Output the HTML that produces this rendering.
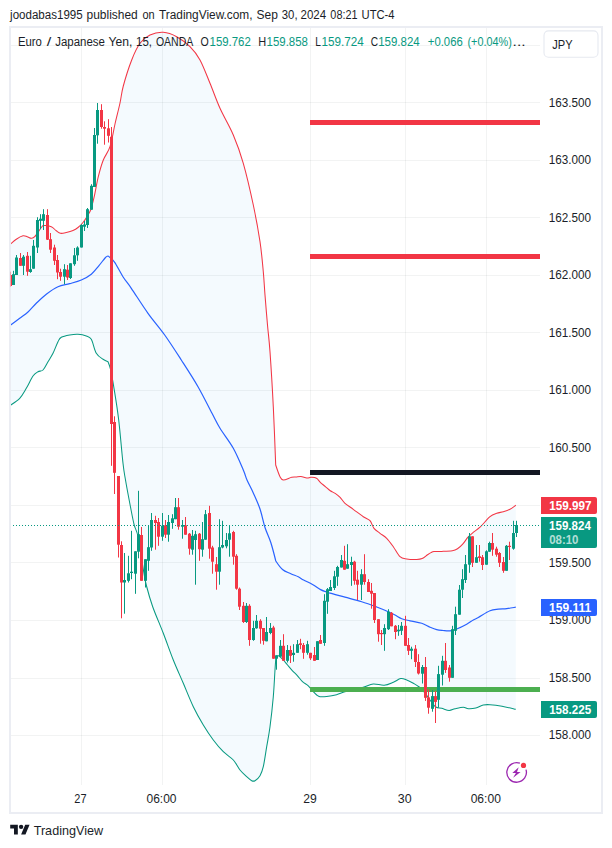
<!DOCTYPE html>
<html><head><meta charset="utf-8"><title>EURJPY</title>
<style>html,body{margin:0;padding:0;background:#fff}body{width:612px;height:848px;overflow:hidden}svg{display:block}text{font-family:"Liberation Sans",sans-serif}</style>
</head><body>
<svg width="612" height="848" viewBox="0 0 612 848">
<rect width="612" height="848" fill="#fff"/>
<defs><clipPath id="pane"><rect x="11" y="28" width="529" height="757"/></clipPath></defs>
<path d="M10.00 244.50C11.05 243.62 14.13 240.65 16.30 239.20C18.47 237.75 21.18 236.22 23.00 235.80C24.82 235.38 25.82 236.28 27.20 236.70C28.58 237.12 30.05 238.30 31.30 238.30C32.55 238.30 33.03 238.50 34.70 236.70C36.37 234.90 39.78 229.37 41.30 227.50C42.82 225.63 42.13 225.63 43.80 225.50C45.47 225.37 49.22 225.82 51.30 226.70C53.38 227.58 54.77 229.70 56.30 230.80C57.83 231.90 58.83 233.02 60.50 233.30C62.17 233.58 64.22 232.97 66.30 232.50C68.38 232.03 71.05 231.33 73.00 230.50C74.95 229.67 76.33 228.83 78.00 227.50C79.67 226.17 81.33 224.58 83.00 222.50C84.67 220.42 86.67 217.25 88.00 215.00C89.33 212.75 89.97 212.05 91.00 209.00C92.03 205.95 92.98 202.08 94.20 196.70C95.42 191.32 96.78 182.82 98.30 176.70C99.82 170.58 101.35 165.00 103.30 160.00C105.25 155.00 108.05 152.70 110.00 146.70C111.95 140.70 113.33 131.28 115.00 124.00C116.67 116.72 118.62 109.33 120.00 103.00C121.38 96.67 121.35 93.17 123.30 86.00C125.25 78.83 128.92 67.12 131.70 60.00C134.48 52.88 136.95 47.47 140.00 43.30C143.05 39.13 146.12 36.83 150.00 35.00C153.88 33.17 158.85 32.02 163.30 32.30C167.75 32.58 172.25 34.30 176.70 36.70C181.15 39.10 186.12 42.82 190.00 46.70C193.88 50.58 196.67 53.90 200.00 60.00C203.33 66.10 206.67 75.25 210.00 83.30C213.33 91.35 216.12 99.68 220.00 108.30C223.88 116.92 229.42 125.83 233.30 135.00C237.18 144.17 239.97 151.63 243.30 163.30C246.63 174.97 250.52 191.93 253.30 205.00C256.08 218.07 258.33 230.58 260.00 241.70C261.67 252.82 262.47 262.82 263.30 271.70C264.13 280.58 264.30 286.12 265.00 295.00C265.70 303.88 266.67 315.55 267.50 325.00C268.33 334.45 269.03 338.08 270.00 351.70C270.97 365.32 272.35 387.82 273.30 406.70C274.25 425.58 275.70 465.00 275.70 465.00C275.70 465.00 278.73 474.20 280.00 476.70C281.27 479.20 281.35 479.90 283.30 480.00C285.25 480.10 289.58 477.80 291.70 477.30C293.82 476.80 294.47 477.13 296.00 477.00C297.53 476.87 299.10 476.33 300.90 476.50C302.70 476.67 305.17 477.87 306.80 478.00C308.43 478.13 309.40 477.38 310.70 477.30C312.00 477.22 313.53 477.27 314.60 477.50C315.67 477.73 316.12 477.85 317.10 478.70C318.08 479.55 319.12 481.28 320.50 482.60C321.88 483.92 323.77 485.23 325.40 486.60C327.03 487.97 328.67 489.67 330.30 490.80C331.93 491.93 333.57 492.30 335.20 493.40C336.83 494.50 338.47 495.75 340.10 497.40C341.73 499.05 342.80 501.32 345.00 503.30C347.20 505.28 350.25 507.07 353.30 509.30C356.35 511.53 360.52 514.80 363.30 516.70C366.08 518.60 368.22 518.77 370.00 520.70C371.78 522.63 372.33 526.20 374.00 528.30C375.67 530.40 377.88 531.63 380.00 533.30C382.12 534.97 384.48 536.07 386.70 538.30C388.92 540.53 391.08 543.63 393.30 546.70C395.52 549.77 397.77 554.65 400.00 556.70C402.23 558.75 403.92 558.53 406.70 559.00C409.48 559.47 414.12 559.57 416.70 559.50C419.28 559.43 420.40 559.38 422.20 558.60C424.00 557.82 426.03 555.80 427.50 554.80C428.97 553.80 429.92 553.15 431.00 552.60C432.08 552.05 432.20 551.70 434.00 551.50C435.80 551.30 438.75 551.53 441.80 551.40C444.85 551.27 449.68 551.13 452.30 550.70C454.92 550.27 455.77 549.88 457.50 548.80C459.23 547.72 460.95 546.13 462.70 544.20C464.45 542.27 466.25 539.17 468.00 537.20C469.75 535.23 471.20 534.07 473.20 532.40C475.20 530.73 477.20 529.82 480.00 527.20C482.80 524.58 487.22 519.02 490.00 516.70C492.78 514.38 494.48 514.13 496.70 513.30C498.92 512.47 501.08 512.38 503.30 511.70C505.52 511.02 507.92 510.27 510.00 509.20C512.08 508.13 514.83 505.95 515.80 505.30L515.80 709.30C513.50 708.78 506.30 706.97 502.00 706.20C497.70 705.43 493.12 704.90 490.00 704.70C486.88 704.50 485.67 704.45 483.30 705.00C480.93 705.55 478.30 707.38 475.80 708.00C473.30 708.62 470.38 708.83 468.30 708.70C466.22 708.57 465.52 707.20 463.30 707.20C461.08 707.20 457.35 708.17 455.00 708.70C452.65 709.23 451.42 710.47 449.20 710.40C446.98 710.33 443.93 708.87 441.70 708.30C439.47 707.73 437.75 708.38 435.80 707.00C433.85 705.62 431.80 702.33 430.00 700.00C428.20 697.67 426.80 695.17 425.00 693.00C423.20 690.83 421.15 688.62 419.20 687.00C417.25 685.38 415.38 684.47 413.30 683.30C411.22 682.13 408.80 680.78 406.70 680.00C404.60 679.22 402.92 678.23 400.70 678.60C398.48 678.97 396.15 681.10 393.40 682.20C390.65 683.30 387.55 684.90 384.20 685.20C380.85 685.50 376.67 683.70 373.30 684.00C369.93 684.30 367.22 686.08 364.00 687.00C360.78 687.92 357.33 688.65 354.00 689.50C350.67 690.35 346.90 691.23 344.00 692.10C341.10 692.97 339.48 693.97 336.60 694.70C333.72 695.43 329.47 696.17 326.70 696.50C323.93 696.83 321.67 696.95 320.00 696.70C318.33 696.45 317.82 695.83 316.70 695.00C315.58 694.17 314.70 693.23 313.30 691.70C311.90 690.17 310.10 687.47 308.30 685.80C306.50 684.13 304.30 683.37 302.50 681.70C300.70 680.03 299.17 677.62 297.50 675.80C295.83 673.98 294.17 672.60 292.50 670.80C290.83 669.00 289.03 666.80 287.50 665.00C285.97 663.20 284.83 661.53 283.30 660.00C281.77 658.47 279.55 656.08 278.30 655.80C277.05 655.52 275.80 658.30 275.80 658.30C275.80 658.30 275.42 663.60 275.00 670.00C274.58 676.40 274.13 687.25 273.30 696.70C272.47 706.15 271.10 718.37 270.00 726.70C268.90 735.03 267.82 740.03 266.70 746.70C265.58 753.37 264.42 761.87 263.30 766.70C262.18 771.53 261.38 773.37 260.00 775.70C258.62 778.03 256.38 779.87 255.00 780.70C253.62 781.53 253.08 781.37 251.70 780.70C250.32 780.03 248.65 778.48 246.70 776.70C244.75 774.92 242.23 772.78 240.00 770.00C237.77 767.22 236.08 763.05 233.30 760.00C230.52 756.95 226.63 755.03 223.30 751.70C219.97 748.37 216.63 744.45 213.30 740.00C209.97 735.55 206.63 730.55 203.30 725.00C199.97 719.45 196.63 713.65 193.30 706.70C189.97 699.75 186.63 691.08 183.30 683.30C179.97 675.52 176.63 668.33 173.30 660.00C169.97 651.67 166.73 642.18 163.30 633.30C159.87 624.42 155.50 614.58 152.70 606.70C149.90 598.82 148.00 591.83 146.50 586.00C145.00 580.17 145.12 579.92 143.70 571.70C142.28 563.48 139.58 544.48 138.00 536.70C136.42 528.92 135.45 529.95 134.20 525.00C132.95 520.05 131.95 514.50 130.50 507.00C129.05 499.50 126.75 487.28 125.50 480.00C124.25 472.72 124.13 473.30 123.00 463.30C121.87 453.30 120.20 432.50 118.70 420.00C117.20 407.50 115.33 396.63 114.00 388.30C112.67 379.97 111.70 374.43 110.70 370.00C109.70 365.57 108.00 361.70 108.00 361.70C108.00 361.70 104.95 360.70 103.00 359.30C101.05 357.90 98.25 356.63 96.30 353.30C94.35 349.97 92.97 342.18 91.30 339.30C89.63 336.42 88.52 336.83 86.30 336.00C84.08 335.17 80.77 334.47 78.00 334.30C75.23 334.13 72.48 334.50 69.70 335.00C66.92 335.50 63.25 336.18 61.30 337.30C59.35 338.42 59.38 339.03 58.00 341.70C56.62 344.37 54.67 349.97 53.00 353.30C51.33 356.63 49.67 358.92 48.00 361.70C46.33 364.48 44.67 368.33 43.00 370.00C41.33 371.67 39.67 370.70 38.00 371.70C36.33 372.70 34.95 373.23 33.00 376.00C31.05 378.77 28.52 384.58 26.30 388.30C24.08 392.02 22.42 395.43 19.70 398.30C16.98 401.17 11.62 404.30 10.00 405.50Z" fill="#f4fafe" clip-path="url(#pane)"/>
<g shape-rendering="crispEdges" fill="#2a2e39" fill-opacity="0.06">
<rect x="11" y="45" width="529" height="1"/>
<rect x="11" y="102" width="529" height="1"/>
<rect x="11" y="160" width="529" height="1"/>
<rect x="11" y="217" width="529" height="1"/>
<rect x="11" y="275" width="529" height="1"/>
<rect x="11" y="332" width="529" height="1"/>
<rect x="11" y="390" width="529" height="1"/>
<rect x="11" y="447" width="529" height="1"/>
<rect x="11" y="505" width="529" height="1"/>
<rect x="11" y="562" width="529" height="1"/>
<rect x="11" y="620" width="529" height="1"/>
<rect x="11" y="678" width="529" height="1"/>
<rect x="11" y="735" width="529" height="1"/>
<rect x="81" y="28" width="1" height="757"/>
<rect x="162" y="28" width="1" height="757"/>
<rect x="310" y="28" width="1" height="757"/>
<rect x="405" y="28" width="1" height="757"/>
<rect x="486" y="28" width="1" height="757"/>
</g>
<g clip-path="url(#pane)">
<path d="M10.00 244.50C11.05 243.62 14.13 240.65 16.30 239.20C18.47 237.75 21.18 236.22 23.00 235.80C24.82 235.38 25.82 236.28 27.20 236.70C28.58 237.12 30.05 238.30 31.30 238.30C32.55 238.30 33.03 238.50 34.70 236.70C36.37 234.90 39.78 229.37 41.30 227.50C42.82 225.63 42.13 225.63 43.80 225.50C45.47 225.37 49.22 225.82 51.30 226.70C53.38 227.58 54.77 229.70 56.30 230.80C57.83 231.90 58.83 233.02 60.50 233.30C62.17 233.58 64.22 232.97 66.30 232.50C68.38 232.03 71.05 231.33 73.00 230.50C74.95 229.67 76.33 228.83 78.00 227.50C79.67 226.17 81.33 224.58 83.00 222.50C84.67 220.42 86.67 217.25 88.00 215.00C89.33 212.75 89.97 212.05 91.00 209.00C92.03 205.95 92.98 202.08 94.20 196.70C95.42 191.32 96.78 182.82 98.30 176.70C99.82 170.58 101.35 165.00 103.30 160.00C105.25 155.00 108.05 152.70 110.00 146.70C111.95 140.70 113.33 131.28 115.00 124.00C116.67 116.72 118.62 109.33 120.00 103.00C121.38 96.67 121.35 93.17 123.30 86.00C125.25 78.83 128.92 67.12 131.70 60.00C134.48 52.88 136.95 47.47 140.00 43.30C143.05 39.13 146.12 36.83 150.00 35.00C153.88 33.17 158.85 32.02 163.30 32.30C167.75 32.58 172.25 34.30 176.70 36.70C181.15 39.10 186.12 42.82 190.00 46.70C193.88 50.58 196.67 53.90 200.00 60.00C203.33 66.10 206.67 75.25 210.00 83.30C213.33 91.35 216.12 99.68 220.00 108.30C223.88 116.92 229.42 125.83 233.30 135.00C237.18 144.17 239.97 151.63 243.30 163.30C246.63 174.97 250.52 191.93 253.30 205.00C256.08 218.07 258.33 230.58 260.00 241.70C261.67 252.82 262.47 262.82 263.30 271.70C264.13 280.58 264.30 286.12 265.00 295.00C265.70 303.88 266.67 315.55 267.50 325.00C268.33 334.45 269.03 338.08 270.00 351.70C270.97 365.32 272.35 387.82 273.30 406.70C274.25 425.58 275.70 465.00 275.70 465.00C275.70 465.00 278.73 474.20 280.00 476.70C281.27 479.20 281.35 479.90 283.30 480.00C285.25 480.10 289.58 477.80 291.70 477.30C293.82 476.80 294.47 477.13 296.00 477.00C297.53 476.87 299.10 476.33 300.90 476.50C302.70 476.67 305.17 477.87 306.80 478.00C308.43 478.13 309.40 477.38 310.70 477.30C312.00 477.22 313.53 477.27 314.60 477.50C315.67 477.73 316.12 477.85 317.10 478.70C318.08 479.55 319.12 481.28 320.50 482.60C321.88 483.92 323.77 485.23 325.40 486.60C327.03 487.97 328.67 489.67 330.30 490.80C331.93 491.93 333.57 492.30 335.20 493.40C336.83 494.50 338.47 495.75 340.10 497.40C341.73 499.05 342.80 501.32 345.00 503.30C347.20 505.28 350.25 507.07 353.30 509.30C356.35 511.53 360.52 514.80 363.30 516.70C366.08 518.60 368.22 518.77 370.00 520.70C371.78 522.63 372.33 526.20 374.00 528.30C375.67 530.40 377.88 531.63 380.00 533.30C382.12 534.97 384.48 536.07 386.70 538.30C388.92 540.53 391.08 543.63 393.30 546.70C395.52 549.77 397.77 554.65 400.00 556.70C402.23 558.75 403.92 558.53 406.70 559.00C409.48 559.47 414.12 559.57 416.70 559.50C419.28 559.43 420.40 559.38 422.20 558.60C424.00 557.82 426.03 555.80 427.50 554.80C428.97 553.80 429.92 553.15 431.00 552.60C432.08 552.05 432.20 551.70 434.00 551.50C435.80 551.30 438.75 551.53 441.80 551.40C444.85 551.27 449.68 551.13 452.30 550.70C454.92 550.27 455.77 549.88 457.50 548.80C459.23 547.72 460.95 546.13 462.70 544.20C464.45 542.27 466.25 539.17 468.00 537.20C469.75 535.23 471.20 534.07 473.20 532.40C475.20 530.73 477.20 529.82 480.00 527.20C482.80 524.58 487.22 519.02 490.00 516.70C492.78 514.38 494.48 514.13 496.70 513.30C498.92 512.47 501.08 512.38 503.30 511.70C505.52 511.02 507.92 510.27 510.00 509.20C512.08 508.13 514.83 505.95 515.80 505.30" fill="none" stroke="#f23645" stroke-width="1.05" stroke-linejoin="round"/>
<path d="M10.00 405.50C11.62 404.30 16.98 401.17 19.70 398.30C22.42 395.43 24.08 392.02 26.30 388.30C28.52 384.58 31.05 378.77 33.00 376.00C34.95 373.23 36.33 372.70 38.00 371.70C39.67 370.70 41.33 371.67 43.00 370.00C44.67 368.33 46.33 364.48 48.00 361.70C49.67 358.92 51.33 356.63 53.00 353.30C54.67 349.97 56.62 344.37 58.00 341.70C59.38 339.03 59.35 338.42 61.30 337.30C63.25 336.18 66.92 335.50 69.70 335.00C72.48 334.50 75.23 334.13 78.00 334.30C80.77 334.47 84.08 335.17 86.30 336.00C88.52 336.83 89.63 336.42 91.30 339.30C92.97 342.18 94.35 349.97 96.30 353.30C98.25 356.63 101.05 357.90 103.00 359.30C104.95 360.70 108.00 361.70 108.00 361.70C108.00 361.70 109.70 365.57 110.70 370.00C111.70 374.43 112.67 379.97 114.00 388.30C115.33 396.63 117.20 407.50 118.70 420.00C120.20 432.50 121.87 453.30 123.00 463.30C124.13 473.30 124.25 472.72 125.50 480.00C126.75 487.28 129.05 499.50 130.50 507.00C131.95 514.50 132.95 520.05 134.20 525.00C135.45 529.95 136.42 528.92 138.00 536.70C139.58 544.48 142.28 563.48 143.70 571.70C145.12 579.92 145.00 580.17 146.50 586.00C148.00 591.83 149.90 598.82 152.70 606.70C155.50 614.58 159.87 624.42 163.30 633.30C166.73 642.18 169.97 651.67 173.30 660.00C176.63 668.33 179.97 675.52 183.30 683.30C186.63 691.08 189.97 699.75 193.30 706.70C196.63 713.65 199.97 719.45 203.30 725.00C206.63 730.55 209.97 735.55 213.30 740.00C216.63 744.45 219.97 748.37 223.30 751.70C226.63 755.03 230.52 756.95 233.30 760.00C236.08 763.05 237.77 767.22 240.00 770.00C242.23 772.78 244.75 774.92 246.70 776.70C248.65 778.48 250.32 780.03 251.70 780.70C253.08 781.37 253.62 781.53 255.00 780.70C256.38 779.87 258.62 778.03 260.00 775.70C261.38 773.37 262.18 771.53 263.30 766.70C264.42 761.87 265.58 753.37 266.70 746.70C267.82 740.03 268.90 735.03 270.00 726.70C271.10 718.37 272.47 706.15 273.30 696.70C274.13 687.25 274.58 676.40 275.00 670.00C275.42 663.60 275.80 658.30 275.80 658.30C275.80 658.30 277.05 655.52 278.30 655.80C279.55 656.08 281.77 658.47 283.30 660.00C284.83 661.53 285.97 663.20 287.50 665.00C289.03 666.80 290.83 669.00 292.50 670.80C294.17 672.60 295.83 673.98 297.50 675.80C299.17 677.62 300.70 680.03 302.50 681.70C304.30 683.37 306.50 684.13 308.30 685.80C310.10 687.47 311.90 690.17 313.30 691.70C314.70 693.23 315.58 694.17 316.70 695.00C317.82 695.83 318.33 696.45 320.00 696.70C321.67 696.95 323.93 696.83 326.70 696.50C329.47 696.17 333.72 695.43 336.60 694.70C339.48 693.97 341.10 692.97 344.00 692.10C346.90 691.23 350.67 690.35 354.00 689.50C357.33 688.65 360.78 687.92 364.00 687.00C367.22 686.08 369.93 684.30 373.30 684.00C376.67 683.70 380.85 685.50 384.20 685.20C387.55 684.90 390.65 683.30 393.40 682.20C396.15 681.10 398.48 678.97 400.70 678.60C402.92 678.23 404.60 679.22 406.70 680.00C408.80 680.78 411.22 682.13 413.30 683.30C415.38 684.47 417.25 685.38 419.20 687.00C421.15 688.62 423.20 690.83 425.00 693.00C426.80 695.17 428.20 697.67 430.00 700.00C431.80 702.33 433.85 705.62 435.80 707.00C437.75 708.38 439.47 707.73 441.70 708.30C443.93 708.87 446.98 710.33 449.20 710.40C451.42 710.47 452.65 709.23 455.00 708.70C457.35 708.17 461.08 707.20 463.30 707.20C465.52 707.20 466.22 708.57 468.30 708.70C470.38 708.83 473.30 708.62 475.80 708.00C478.30 707.38 480.93 705.55 483.30 705.00C485.67 704.45 486.88 704.50 490.00 704.70C493.12 704.90 497.70 705.43 502.00 706.20C506.30 706.97 513.50 708.78 515.80 709.30" fill="none" stroke="#089981" stroke-width="1.05" stroke-linejoin="round"/>
<path d="M10.00 325.50C11.62 324.30 16.70 320.55 19.70 318.30C22.70 316.05 25.23 314.50 28.00 312.00C30.77 309.50 33.25 306.27 36.30 303.30C39.35 300.33 42.68 296.97 46.30 294.20C49.92 291.43 54.10 288.45 58.00 286.70C61.90 284.95 65.82 284.82 69.70 283.70C73.58 282.58 77.70 281.58 81.30 280.00C84.90 278.42 88.38 276.57 91.30 274.20C94.22 271.83 96.43 268.58 98.80 265.80C101.17 263.02 103.97 259.13 105.50 257.50C107.03 255.87 108.00 256.00 108.00 256.00C108.00 256.00 108.88 256.45 110.00 257.50C111.12 258.55 112.48 259.02 114.70 262.30C116.92 265.58 120.53 272.87 123.30 277.20C126.07 281.53 127.18 282.28 131.30 288.30C135.42 294.32 142.43 305.52 148.00 313.30C153.57 321.08 159.15 327.22 164.70 335.00C170.25 342.78 175.75 351.38 181.30 360.00C186.85 368.62 192.88 377.82 198.00 386.70C203.12 395.58 208.33 406.37 212.00 413.30C215.67 420.23 216.45 422.47 220.00 428.30C223.55 434.13 229.42 441.35 233.30 448.30C237.18 455.25 241.02 464.72 243.30 470.00C245.58 475.28 245.33 476.17 247.00 480.00C248.67 483.83 251.13 488.17 253.30 493.00C255.47 497.83 258.05 503.25 260.00 509.00C261.95 514.75 263.20 521.92 265.00 527.50C266.80 533.08 269.00 536.92 270.80 542.50C272.60 548.08 275.80 561.00 275.80 561.00C275.80 561.00 280.00 567.38 282.50 569.50C285.00 571.62 288.17 572.48 290.80 573.70C293.43 574.92 296.17 575.75 298.30 576.80C300.43 577.85 301.23 578.73 303.60 580.00C305.97 581.27 309.67 582.80 312.50 584.40C315.33 586.00 318.35 588.37 320.60 589.60C322.85 590.83 324.43 591.20 326.00 591.80C327.57 592.40 326.83 592.30 330.00 593.20C333.17 594.10 339.72 595.78 345.00 597.20C350.28 598.62 356.42 600.07 361.70 601.70C366.98 603.33 372.27 605.33 376.70 607.00C381.13 608.67 385.25 610.37 388.30 611.70C391.35 613.03 392.77 613.83 395.00 615.00C397.23 616.17 399.20 617.73 401.70 618.70C404.20 619.67 406.67 620.03 410.00 620.80C413.33 621.57 418.37 622.23 421.70 623.30C425.03 624.37 427.50 626.13 430.00 627.20C432.50 628.27 434.53 629.15 436.70 629.70C438.87 630.25 440.78 630.32 443.00 630.50C445.22 630.68 447.72 631.05 450.00 630.80C452.28 630.55 453.92 630.10 456.70 629.00C459.48 627.90 463.93 625.70 466.70 624.20C469.47 622.70 471.37 621.12 473.30 620.00C475.23 618.88 475.52 619.03 478.30 617.50C481.08 615.97 486.67 612.18 490.00 610.80C493.33 609.42 495.52 609.55 498.30 609.20C501.08 608.85 503.78 609.03 506.70 608.70C509.62 608.37 514.28 607.45 515.80 607.20" fill="none" stroke="#2962ff" stroke-width="1.2" stroke-linejoin="round"/>
</g>
<g shape-rendering="crispEdges">
<rect x="310" y="120" width="230" height="5" fill="#f23645"/>
<rect x="310" y="254" width="230" height="5" fill="#f23645"/>
<rect x="310" y="470" width="230" height="5" fill="#131722"/>
<rect x="310" y="687" width="230" height="5" fill="#4caf50"/>
</g>
<g clip-path="url(#pane)">
<rect x="10" y="271.7" width="1" height="15.0" fill="#f23645"/>
<rect x="9" y="275.0" width="3" height="11.0" fill="#f23645"/>
<rect x="13" y="270.8" width="1" height="14.2" fill="#089981"/>
<rect x="12" y="274.2" width="3" height="10.8" fill="#089981"/>
<rect x="16" y="255.0" width="1" height="20.0" fill="#089981"/>
<rect x="15" y="257.5" width="3" height="17.5" fill="#089981"/>
<rect x="20" y="253.0" width="1" height="12.8" fill="#f23645"/>
<rect x="19" y="258.0" width="3" height="7.8" fill="#f23645"/>
<rect x="23" y="255.0" width="1" height="20.0" fill="#089981"/>
<rect x="22" y="256.7" width="3" height="9.1" fill="#089981"/>
<rect x="27" y="252.0" width="1" height="23.8" fill="#f23645"/>
<rect x="26" y="255.8" width="3" height="15.9" fill="#f23645"/>
<rect x="30" y="255.8" width="1" height="17.0" fill="#089981"/>
<rect x="29" y="269.2" width="3" height="2.8" fill="#089981"/>
<rect x="33" y="240.0" width="1" height="28.7" fill="#089981"/>
<rect x="32" y="245.8" width="3" height="22.9" fill="#089981"/>
<rect x="37" y="217.2" width="1" height="35.8" fill="#089981"/>
<rect x="36" y="220.0" width="3" height="27.5" fill="#089981"/>
<rect x="40" y="214.2" width="1" height="15.0" fill="#089981"/>
<rect x="39" y="218.7" width="3" height="2.1" fill="#089981"/>
<rect x="43" y="209.2" width="1" height="20.8" fill="#089981"/>
<rect x="42" y="214.2" width="3" height="6.6" fill="#089981"/>
<rect x="47" y="209.2" width="1" height="30.8" fill="#f23645"/>
<rect x="46" y="215.0" width="3" height="24.7" fill="#f23645"/>
<rect x="50" y="233.0" width="1" height="20.0" fill="#f23645"/>
<rect x="49" y="239.2" width="3" height="10.5" fill="#f23645"/>
<rect x="54" y="244.7" width="1" height="20.3" fill="#f23645"/>
<rect x="53" y="247.5" width="3" height="13.3" fill="#f23645"/>
<rect x="57" y="255.0" width="1" height="24.2" fill="#f23645"/>
<rect x="56" y="260.0" width="3" height="12.5" fill="#f23645"/>
<rect x="60" y="268.7" width="1" height="12.1" fill="#f23645"/>
<rect x="59" y="272.0" width="3" height="4.7" fill="#f23645"/>
<rect x="64" y="264.2" width="1" height="20.0" fill="#089981"/>
<rect x="63" y="269.2" width="3" height="7.5" fill="#089981"/>
<rect x="67" y="265.0" width="1" height="15.0" fill="#f23645"/>
<rect x="66" y="269.7" width="3" height="7.8" fill="#f23645"/>
<rect x="70" y="263.3" width="1" height="15.7" fill="#089981"/>
<rect x="69" y="263.3" width="3" height="14.7" fill="#089981"/>
<rect x="74" y="248.0" width="1" height="17.8" fill="#089981"/>
<rect x="73" y="255.3" width="3" height="8.9" fill="#089981"/>
<rect x="77" y="246.3" width="1" height="14.5" fill="#089981"/>
<rect x="76" y="247.5" width="3" height="7.8" fill="#089981"/>
<rect x="81" y="224.2" width="1" height="23.3" fill="#089981"/>
<rect x="80" y="225.0" width="3" height="22.5" fill="#089981"/>
<rect x="84" y="221.0" width="1" height="10.0" fill="#089981"/>
<rect x="83" y="224.5" width="3" height="2.2" fill="#089981"/>
<rect x="87" y="208.0" width="1" height="20.0" fill="#089981"/>
<rect x="86" y="209.2" width="3" height="15.8" fill="#089981"/>
<rect x="91" y="184.2" width="1" height="25.5" fill="#089981"/>
<rect x="90" y="185.8" width="3" height="23.9" fill="#089981"/>
<rect x="94" y="128.0" width="1" height="59.0" fill="#089981"/>
<rect x="93" y="135.0" width="3" height="52.0" fill="#089981"/>
<rect x="97" y="103.0" width="1" height="40.7" fill="#089981"/>
<rect x="96" y="110.0" width="3" height="25.3" fill="#089981"/>
<rect x="101" y="104.2" width="1" height="24.5" fill="#f23645"/>
<rect x="100" y="110.0" width="3" height="17.0" fill="#f23645"/>
<rect x="104" y="121.3" width="1" height="23.4" fill="#f23645"/>
<rect x="103" y="127.0" width="3" height="1.7" fill="#f23645"/>
<rect x="108" y="119.2" width="1" height="23.3" fill="#f23645"/>
<rect x="107" y="128.3" width="3" height="7.5" fill="#f23645"/>
<rect x="111" y="127.0" width="1" height="338.8" fill="#f23645"/>
<rect x="110" y="136.7" width="3" height="287.3" fill="#f23645"/>
<rect x="114" y="416.3" width="1" height="77.7" fill="#f23645"/>
<rect x="113" y="422.0" width="3" height="50.8" fill="#f23645"/>
<rect x="118" y="476.0" width="1" height="81.5" fill="#f23645"/>
<rect x="117" y="476.0" width="3" height="68.7" fill="#f23645"/>
<rect x="121" y="541.3" width="1" height="77.0" fill="#f23645"/>
<rect x="120" y="545.0" width="3" height="37.5" fill="#f23645"/>
<rect x="124" y="553.0" width="1" height="60.7" fill="#089981"/>
<rect x="123" y="580.0" width="3" height="2.5" fill="#089981"/>
<rect x="128" y="555.8" width="1" height="26.7" fill="#089981"/>
<rect x="127" y="573.3" width="3" height="7.5" fill="#089981"/>
<rect x="131" y="530.8" width="1" height="48.4" fill="#089981"/>
<rect x="130" y="571.7" width="3" height="1.3" fill="#089981"/>
<rect x="135" y="551.3" width="1" height="42.5" fill="#089981"/>
<rect x="134" y="551.3" width="3" height="22.4" fill="#089981"/>
<rect x="138" y="490.8" width="1" height="67.5" fill="#089981"/>
<rect x="137" y="534.2" width="3" height="17.5" fill="#089981"/>
<rect x="141" y="527.0" width="1" height="53.8" fill="#f23645"/>
<rect x="140" y="535.0" width="3" height="45.8" fill="#f23645"/>
<rect x="145" y="559.2" width="1" height="28.3" fill="#089981"/>
<rect x="144" y="559.2" width="3" height="21.6" fill="#089981"/>
<rect x="148" y="525.0" width="1" height="45.8" fill="#089981"/>
<rect x="147" y="547.2" width="3" height="13.6" fill="#089981"/>
<rect x="151" y="513.0" width="1" height="37.8" fill="#089981"/>
<rect x="150" y="520.0" width="3" height="27.5" fill="#089981"/>
<rect x="155" y="515.8" width="1" height="33.9" fill="#f23645"/>
<rect x="154" y="520.0" width="3" height="3.0" fill="#f23645"/>
<rect x="158" y="518.0" width="1" height="27.8" fill="#f23645"/>
<rect x="157" y="522.0" width="3" height="14.7" fill="#f23645"/>
<rect x="162" y="513.0" width="1" height="27.8" fill="#089981"/>
<rect x="161" y="525.8" width="3" height="10.9" fill="#089981"/>
<rect x="165" y="520.0" width="1" height="18.0" fill="#f23645"/>
<rect x="164" y="525.3" width="3" height="9.4" fill="#f23645"/>
<rect x="168" y="515.0" width="1" height="26.7" fill="#089981"/>
<rect x="167" y="522.0" width="3" height="12.7" fill="#089981"/>
<rect x="172" y="514.2" width="1" height="14.6" fill="#089981"/>
<rect x="171" y="518.3" width="3" height="4.7" fill="#089981"/>
<rect x="175" y="498.0" width="1" height="21.2" fill="#089981"/>
<rect x="174" y="507.2" width="3" height="12.0" fill="#089981"/>
<rect x="178" y="498.0" width="1" height="31.7" fill="#f23645"/>
<rect x="177" y="507.2" width="3" height="19.5" fill="#f23645"/>
<rect x="182" y="520.0" width="1" height="18.7" fill="#089981"/>
<rect x="181" y="525.0" width="3" height="1.7" fill="#089981"/>
<rect x="185" y="517.0" width="1" height="17.7" fill="#f23645"/>
<rect x="184" y="525.3" width="3" height="9.4" fill="#f23645"/>
<rect x="189" y="533.0" width="1" height="21.7" fill="#f23645"/>
<rect x="188" y="533.7" width="3" height="15.0" fill="#f23645"/>
<rect x="192" y="530.0" width="1" height="24.7" fill="#089981"/>
<rect x="191" y="535.8" width="3" height="13.9" fill="#089981"/>
<rect x="195" y="530.8" width="1" height="53.9" fill="#089981"/>
<rect x="194" y="534.2" width="3" height="5.8" fill="#089981"/>
<rect x="199" y="533.0" width="1" height="27.8" fill="#f23645"/>
<rect x="198" y="533.7" width="3" height="15.5" fill="#f23645"/>
<rect x="202" y="522.0" width="1" height="34.7" fill="#089981"/>
<rect x="201" y="539.2" width="3" height="10.5" fill="#089981"/>
<rect x="205" y="510.0" width="1" height="29.7" fill="#089981"/>
<rect x="204" y="514.2" width="3" height="25.5" fill="#089981"/>
<rect x="209" y="505.8" width="1" height="52.9" fill="#f23645"/>
<rect x="208" y="513.0" width="3" height="35.7" fill="#f23645"/>
<rect x="212" y="545.8" width="1" height="27.9" fill="#f23645"/>
<rect x="211" y="547.5" width="3" height="14.2" fill="#f23645"/>
<rect x="216" y="557.0" width="1" height="32.7" fill="#f23645"/>
<rect x="215" y="564.2" width="3" height="7.5" fill="#f23645"/>
<rect x="219" y="519.2" width="1" height="65.5" fill="#089981"/>
<rect x="218" y="547.2" width="3" height="24.5" fill="#089981"/>
<rect x="222" y="520.8" width="1" height="27.5" fill="#089981"/>
<rect x="221" y="545.0" width="3" height="2.5" fill="#089981"/>
<rect x="226" y="533.0" width="1" height="15.3" fill="#089981"/>
<rect x="225" y="540.0" width="3" height="6.3" fill="#089981"/>
<rect x="229" y="525.0" width="1" height="31.7" fill="#089981"/>
<rect x="228" y="533.3" width="3" height="6.4" fill="#089981"/>
<rect x="233" y="530.8" width="1" height="33.9" fill="#f23645"/>
<rect x="232" y="532.0" width="3" height="24.7" fill="#f23645"/>
<rect x="236" y="554.2" width="1" height="35.5" fill="#f23645"/>
<rect x="235" y="555.8" width="3" height="32.9" fill="#f23645"/>
<rect x="239" y="587.5" width="1" height="22.5" fill="#f23645"/>
<rect x="238" y="588.7" width="3" height="18.0" fill="#f23645"/>
<rect x="243" y="602.0" width="1" height="21.0" fill="#f23645"/>
<rect x="242" y="605.8" width="3" height="16.2" fill="#f23645"/>
<rect x="246" y="603.0" width="1" height="20.0" fill="#089981"/>
<rect x="245" y="605.8" width="3" height="16.2" fill="#089981"/>
<rect x="249" y="604.2" width="1" height="41.6" fill="#f23645"/>
<rect x="248" y="605.8" width="3" height="34.2" fill="#f23645"/>
<rect x="253" y="620.8" width="1" height="20.0" fill="#089981"/>
<rect x="252" y="628.0" width="3" height="12.0" fill="#089981"/>
<rect x="256" y="615.0" width="1" height="13.7" fill="#089981"/>
<rect x="255" y="620.8" width="3" height="7.5" fill="#089981"/>
<rect x="260" y="619.2" width="1" height="24.5" fill="#f23645"/>
<rect x="259" y="620.8" width="3" height="7.9" fill="#f23645"/>
<rect x="263" y="628.0" width="1" height="16.7" fill="#f23645"/>
<rect x="262" y="628.0" width="3" height="12.8" fill="#f23645"/>
<rect x="266" y="617.0" width="1" height="24.3" fill="#089981"/>
<rect x="265" y="632.0" width="3" height="9.3" fill="#089981"/>
<rect x="270" y="623.0" width="1" height="11.2" fill="#089981"/>
<rect x="269" y="628.0" width="3" height="5.0" fill="#089981"/>
<rect x="273" y="625.8" width="1" height="32.9" fill="#f23645"/>
<rect x="272" y="627.5" width="3" height="31.2" fill="#f23645"/>
<rect x="276" y="655.3" width="1" height="14.4" fill="#089981"/>
<rect x="275" y="655.3" width="3" height="3.4" fill="#089981"/>
<rect x="280" y="640.0" width="1" height="16.7" fill="#089981"/>
<rect x="279" y="645.8" width="3" height="10.9" fill="#089981"/>
<rect x="283" y="634.2" width="1" height="26.6" fill="#f23645"/>
<rect x="282" y="645.8" width="3" height="15.0" fill="#f23645"/>
<rect x="287" y="645.0" width="1" height="17.5" fill="#089981"/>
<rect x="286" y="650.0" width="3" height="10.8" fill="#089981"/>
<rect x="290" y="645.8" width="1" height="17.2" fill="#f23645"/>
<rect x="289" y="650.0" width="3" height="5.8" fill="#f23645"/>
<rect x="293" y="644.2" width="1" height="17.5" fill="#089981"/>
<rect x="292" y="652.8" width="3" height="2.2" fill="#089981"/>
<rect x="297" y="640.0" width="1" height="12.8" fill="#089981"/>
<rect x="296" y="644.2" width="3" height="8.6" fill="#089981"/>
<rect x="300" y="638.8" width="1" height="10.4" fill="#f23645"/>
<rect x="299" y="643.3" width="3" height="1.7" fill="#f23645"/>
<rect x="303" y="643.0" width="1" height="15.8" fill="#f23645"/>
<rect x="302" y="645.0" width="3" height="7.8" fill="#f23645"/>
<rect x="307" y="640.8" width="1" height="13.9" fill="#089981"/>
<rect x="306" y="644.2" width="3" height="8.6" fill="#089981"/>
<rect x="310" y="652.8" width="1" height="7.2" fill="#f23645"/>
<rect x="309" y="652.8" width="3" height="5.5" fill="#f23645"/>
<rect x="314" y="647.0" width="1" height="13.8" fill="#f23645"/>
<rect x="313" y="655.0" width="3" height="5.8" fill="#f23645"/>
<rect x="317" y="641.2" width="1" height="18.8" fill="#089981"/>
<rect x="316" y="641.2" width="3" height="18.8" fill="#089981"/>
<rect x="320" y="635.0" width="1" height="8.8" fill="#f23645"/>
<rect x="319" y="640.0" width="3" height="3.8" fill="#f23645"/>
<rect x="324" y="594.2" width="1" height="51.6" fill="#089981"/>
<rect x="323" y="600.8" width="3" height="42.2" fill="#089981"/>
<rect x="327" y="588.0" width="1" height="25.8" fill="#089981"/>
<rect x="326" y="589.2" width="3" height="12.5" fill="#089981"/>
<rect x="330" y="580.0" width="1" height="11.0" fill="#089981"/>
<rect x="329" y="587.0" width="3" height="4.0" fill="#089981"/>
<rect x="334" y="570.8" width="1" height="19.2" fill="#089981"/>
<rect x="333" y="576.3" width="3" height="11.7" fill="#089981"/>
<rect x="337" y="565.8" width="1" height="20.0" fill="#089981"/>
<rect x="336" y="567.0" width="3" height="9.7" fill="#089981"/>
<rect x="341" y="555.0" width="1" height="12.5" fill="#089981"/>
<rect x="340" y="560.0" width="3" height="7.5" fill="#089981"/>
<rect x="344" y="545.8" width="1" height="23.9" fill="#f23645"/>
<rect x="343" y="560.8" width="3" height="8.9" fill="#f23645"/>
<rect x="347" y="544.2" width="1" height="24.5" fill="#089981"/>
<rect x="346" y="564.2" width="3" height="4.5" fill="#089981"/>
<rect x="351" y="556.7" width="1" height="29.1" fill="#089981"/>
<rect x="350" y="562.0" width="3" height="3.0" fill="#089981"/>
<rect x="354" y="560.8" width="1" height="23.9" fill="#f23645"/>
<rect x="353" y="561.7" width="3" height="19.1" fill="#f23645"/>
<rect x="357" y="570.8" width="1" height="29.2" fill="#f23645"/>
<rect x="356" y="579.7" width="3" height="5.0" fill="#f23645"/>
<rect x="361" y="569.2" width="1" height="30.8" fill="#089981"/>
<rect x="360" y="574.2" width="3" height="10.5" fill="#089981"/>
<rect x="364" y="554.2" width="1" height="30.5" fill="#f23645"/>
<rect x="363" y="574.2" width="3" height="7.8" fill="#f23645"/>
<rect x="368" y="579.2" width="1" height="12.8" fill="#f23645"/>
<rect x="367" y="582.0" width="3" height="10.0" fill="#f23645"/>
<rect x="371" y="583.0" width="1" height="25.7" fill="#f23645"/>
<rect x="370" y="590.8" width="3" height="2.9" fill="#f23645"/>
<rect x="374" y="593.0" width="1" height="30.0" fill="#f23645"/>
<rect x="373" y="593.0" width="3" height="27.0" fill="#f23645"/>
<rect x="378" y="619.2" width="1" height="22.5" fill="#f23645"/>
<rect x="377" y="619.2" width="3" height="15.0" fill="#f23645"/>
<rect x="381" y="630.0" width="1" height="15.0" fill="#f23645"/>
<rect x="380" y="633.0" width="3" height="1.2" fill="#f23645"/>
<rect x="384" y="624.2" width="1" height="26.6" fill="#089981"/>
<rect x="383" y="628.0" width="3" height="6.2" fill="#089981"/>
<rect x="388" y="609.2" width="1" height="20.8" fill="#089981"/>
<rect x="387" y="611.7" width="3" height="17.5" fill="#089981"/>
<rect x="391" y="612.0" width="1" height="14.3" fill="#f23645"/>
<rect x="390" y="612.8" width="3" height="13.5" fill="#f23645"/>
<rect x="395" y="625.0" width="1" height="14.2" fill="#f23645"/>
<rect x="394" y="625.8" width="3" height="6.2" fill="#f23645"/>
<rect x="398" y="625.0" width="1" height="10.8" fill="#089981"/>
<rect x="397" y="629.7" width="3" height="1.6" fill="#089981"/>
<rect x="401" y="622.0" width="1" height="13.0" fill="#089981"/>
<rect x="400" y="625.8" width="3" height="5.0" fill="#089981"/>
<rect x="405" y="615.8" width="1" height="30.0" fill="#f23645"/>
<rect x="404" y="625.8" width="3" height="20.0" fill="#f23645"/>
<rect x="408" y="638.0" width="1" height="17.0" fill="#f23645"/>
<rect x="407" y="645.0" width="3" height="5.8" fill="#f23645"/>
<rect x="411" y="646.7" width="1" height="12.5" fill="#089981"/>
<rect x="410" y="648.7" width="3" height="2.1" fill="#089981"/>
<rect x="415" y="645.0" width="1" height="22.0" fill="#f23645"/>
<rect x="414" y="648.7" width="3" height="13.3" fill="#f23645"/>
<rect x="418" y="654.2" width="1" height="20.3" fill="#f23645"/>
<rect x="417" y="662.0" width="3" height="11.5" fill="#f23645"/>
<rect x="422" y="665.0" width="1" height="18.5" fill="#089981"/>
<rect x="421" y="667.0" width="3" height="6.7" fill="#089981"/>
<rect x="425" y="657.0" width="1" height="43.9" fill="#f23645"/>
<rect x="424" y="667.0" width="3" height="30.8" fill="#f23645"/>
<rect x="428" y="689.2" width="1" height="24.5" fill="#f23645"/>
<rect x="427" y="697.4" width="3" height="10.3" fill="#f23645"/>
<rect x="432" y="690.0" width="1" height="21.7" fill="#089981"/>
<rect x="431" y="696.1" width="3" height="12.7" fill="#089981"/>
<rect x="435" y="691.0" width="1" height="32.0" fill="#f23645"/>
<rect x="434" y="696.1" width="3" height="5.8" fill="#f23645"/>
<rect x="438" y="665.8" width="1" height="41.8" fill="#089981"/>
<rect x="437" y="674.1" width="3" height="25.7" fill="#089981"/>
<rect x="442" y="655.8" width="1" height="29.7" fill="#089981"/>
<rect x="441" y="660.8" width="3" height="13.9" fill="#089981"/>
<rect x="445" y="643.0" width="1" height="29.9" fill="#f23645"/>
<rect x="444" y="660.8" width="3" height="9.2" fill="#f23645"/>
<rect x="449" y="665.0" width="1" height="16.7" fill="#f23645"/>
<rect x="448" y="667.5" width="3" height="10.3" fill="#f23645"/>
<rect x="452" y="625.8" width="1" height="52.0" fill="#089981"/>
<rect x="451" y="629.2" width="3" height="48.6" fill="#089981"/>
<rect x="455" y="606.7" width="1" height="28.3" fill="#089981"/>
<rect x="454" y="614.2" width="3" height="16.6" fill="#089981"/>
<rect x="459" y="585.0" width="1" height="29.7" fill="#089981"/>
<rect x="458" y="589.7" width="3" height="25.0" fill="#089981"/>
<rect x="462" y="569.2" width="1" height="28.8" fill="#089981"/>
<rect x="461" y="579.2" width="3" height="10.5" fill="#089981"/>
<rect x="465" y="555.0" width="1" height="28.0" fill="#089981"/>
<rect x="464" y="564.2" width="3" height="15.8" fill="#089981"/>
<rect x="469" y="533.0" width="1" height="39.8" fill="#089981"/>
<rect x="468" y="536.3" width="3" height="28.4" fill="#089981"/>
<rect x="472" y="536.3" width="1" height="30.7" fill="#f23645"/>
<rect x="471" y="536.3" width="3" height="26.5" fill="#f23645"/>
<rect x="476" y="545.0" width="1" height="17.8" fill="#089981"/>
<rect x="475" y="557.2" width="3" height="5.6" fill="#089981"/>
<rect x="479" y="545.0" width="1" height="16.7" fill="#f23645"/>
<rect x="478" y="556.3" width="3" height="1.7" fill="#f23645"/>
<rect x="482" y="555.0" width="1" height="15.0" fill="#f23645"/>
<rect x="481" y="557.2" width="3" height="7.8" fill="#f23645"/>
<rect x="486" y="550.3" width="1" height="14.4" fill="#089981"/>
<rect x="485" y="551.3" width="3" height="13.4" fill="#089981"/>
<rect x="489" y="541.7" width="1" height="10.0" fill="#089981"/>
<rect x="488" y="543.0" width="3" height="8.7" fill="#089981"/>
<rect x="492" y="533.0" width="1" height="22.8" fill="#f23645"/>
<rect x="491" y="543.0" width="3" height="6.7" fill="#f23645"/>
<rect x="496" y="546.7" width="1" height="10.0" fill="#f23645"/>
<rect x="495" y="548.7" width="3" height="6.0" fill="#f23645"/>
<rect x="499" y="552.0" width="1" height="15.0" fill="#f23645"/>
<rect x="498" y="553.0" width="3" height="9.8" fill="#f23645"/>
<rect x="503" y="557.0" width="1" height="15.8" fill="#f23645"/>
<rect x="502" y="562.0" width="3" height="8.8" fill="#f23645"/>
<rect x="506" y="545.0" width="1" height="25.8" fill="#089981"/>
<rect x="505" y="545.8" width="3" height="25.0" fill="#089981"/>
<rect x="509" y="541.7" width="1" height="18.3" fill="#f23645"/>
<rect x="508" y="545.8" width="3" height="1.2" fill="#f23645"/>
<rect x="513" y="520.8" width="1" height="28.9" fill="#089981"/>
<rect x="512" y="533.0" width="3" height="15.7" fill="#089981"/>
<rect x="516" y="520.8" width="1" height="16.2" fill="#089981"/>
<rect x="515" y="525.0" width="3" height="8.0" fill="#089981"/>
</g>
<line x1="10" y1="525.5" x2="540" y2="525.5" stroke="#089981" stroke-width="1" stroke-dasharray="1 2" shape-rendering="crispEdges"/>
<rect x="10" y="27" width="592" height="786" fill="none" stroke="#ebedf3" stroke-width="2" shape-rendering="crispEdges"/>
<rect x="10" y="271.7" width="1" height="15" fill="#f23645" fill-opacity="0.4"/>
<rect x="544" y="30.9" width="54" height="26.3" rx="4.5" fill="#fff" stroke="#e6e9f0" stroke-width="1.1"/>
<text x="548.85" y="106.8" font-size="12" font-weight="normal" fill="#1a1e28" fill-opacity="1" textLength="42.27" lengthAdjust="spacingAndGlyphs">163.500</text>
<text x="548.85" y="164.3" font-size="12" font-weight="normal" fill="#1a1e28" fill-opacity="1" textLength="42.27" lengthAdjust="spacingAndGlyphs">163.000</text>
<text x="548.85" y="221.8" font-size="12" font-weight="normal" fill="#1a1e28" fill-opacity="1" textLength="42.27" lengthAdjust="spacingAndGlyphs">162.500</text>
<text x="548.85" y="279.3" font-size="12" font-weight="normal" fill="#1a1e28" fill-opacity="1" textLength="42.27" lengthAdjust="spacingAndGlyphs">162.000</text>
<text x="548.85" y="336.8" font-size="12" font-weight="normal" fill="#1a1e28" fill-opacity="1" textLength="42.27" lengthAdjust="spacingAndGlyphs">161.500</text>
<text x="548.85" y="394.3" font-size="12" font-weight="normal" fill="#1a1e28" fill-opacity="1" textLength="42.27" lengthAdjust="spacingAndGlyphs">161.000</text>
<text x="548.85" y="451.8" font-size="12" font-weight="normal" fill="#1a1e28" fill-opacity="1" textLength="42.27" lengthAdjust="spacingAndGlyphs">160.500</text>
<text x="548.85" y="566.8" font-size="12" font-weight="normal" fill="#1a1e28" fill-opacity="1" textLength="42.27" lengthAdjust="spacingAndGlyphs">159.500</text>
<text x="548.85" y="624.3" font-size="12" font-weight="normal" fill="#1a1e28" fill-opacity="1" textLength="42.27" lengthAdjust="spacingAndGlyphs">159.000</text>
<text x="548.85" y="682.3" font-size="12" font-weight="normal" fill="#1a1e28" fill-opacity="1" textLength="42.27" lengthAdjust="spacingAndGlyphs">158.500</text>
<text x="548.85" y="739.3" font-size="12" font-weight="normal" fill="#1a1e28" fill-opacity="1" textLength="42.27" lengthAdjust="spacingAndGlyphs">158.000</text>
<path d="M541 497.0H595a2 2 0 0 1 2 2V512.0a2 2 0 0 1 -2 2H541z" fill="#f23645"/>
<path d="M541 517.0H595a2 2 0 0 1 2 2V546.0a2 2 0 0 1 -2 2H541z" fill="#089981"/>
<path d="M541 599.0H595a2 2 0 0 1 2 2V614.0a2 2 0 0 1 -2 2H541z" fill="#2962ff"/>
<path d="M541 701.0H595a2 2 0 0 1 2 2V716.0a2 2 0 0 1 -2 2H541z" fill="#089981"/>
<text x="10.11" y="19.0" font-size="12" font-weight="normal" fill="#1a1e28" fill-opacity="1" textLength="72.58" lengthAdjust="spacingAndGlyphs">joodabas1995</text>
<text x="86.54" y="19.0" font-size="12" font-weight="normal" fill="#1a1e28" fill-opacity="1" textLength="51.24" lengthAdjust="spacingAndGlyphs">published</text>
<text x="142.51" y="19.0" font-size="12" font-weight="normal" fill="#1a1e28" fill-opacity="1" textLength="12.24" lengthAdjust="spacingAndGlyphs">on</text>
<text x="158.95" y="19.0" font-size="12" font-weight="normal" fill="#1a1e28" fill-opacity="1" textLength="93.60" lengthAdjust="spacingAndGlyphs">TradingView.com,</text>
<text x="256.55" y="19.0" font-size="12" font-weight="normal" fill="#1a1e28" fill-opacity="1" textLength="21.36" lengthAdjust="spacingAndGlyphs">Sep</text>
<text x="281.81" y="19.0" font-size="12" font-weight="normal" fill="#1a1e28" fill-opacity="1" textLength="15.79" lengthAdjust="spacingAndGlyphs">30,</text>
<text x="300.51" y="19.0" font-size="12" font-weight="normal" fill="#1a1e28" fill-opacity="1" textLength="25.61" lengthAdjust="spacingAndGlyphs">2024</text>
<text x="330.36" y="19.0" font-size="12" font-weight="normal" fill="#1a1e28" fill-opacity="1" textLength="27.19" lengthAdjust="spacingAndGlyphs">08:21</text>
<text x="361.52" y="19.0" font-size="12" font-weight="normal" fill="#1a1e28" fill-opacity="1" textLength="33.10" lengthAdjust="spacingAndGlyphs">UTC-4</text>
<text x="17.95" y="45.7" font-size="12" font-weight="normal" fill="#1a1e28" fill-opacity="1" textLength="23.97" lengthAdjust="spacingAndGlyphs">Euro</text>
<text x="46.89" y="45.7" font-size="12" font-weight="normal" fill="#1a1e28" fill-opacity="1" textLength="4.52" lengthAdjust="spacingAndGlyphs">/</text>
<text x="55.18" y="45.7" font-size="12" font-weight="normal" fill="#1a1e28" fill-opacity="1" textLength="49.72" lengthAdjust="spacingAndGlyphs">Japanese</text>
<text x="108.62" y="45.7" font-size="12" font-weight="normal" fill="#1a1e28" fill-opacity="1" textLength="23.86" lengthAdjust="spacingAndGlyphs">Yen,</text>
<text x="136.10" y="45.7" font-size="12" font-weight="normal" fill="#1a1e28" fill-opacity="1" textLength="15.95" lengthAdjust="spacingAndGlyphs">15,</text>
<text x="155.97" y="45.7" font-size="12" font-weight="normal" fill="#1a1e28" fill-opacity="1" textLength="37.30" lengthAdjust="spacingAndGlyphs">OANDA</text>
<text x="200.41" y="45.7" font-size="12" font-weight="normal" fill="#1a1e28" fill-opacity="1" textLength="8.23" lengthAdjust="spacingAndGlyphs">O</text>
<text x="209.60" y="45.7" font-size="12" font-weight="normal" fill="#089981" fill-opacity="1" textLength="41.17" lengthAdjust="spacingAndGlyphs">159.762</text>
<text x="258.19" y="45.7" font-size="12" font-weight="normal" fill="#1a1e28" fill-opacity="1" textLength="7.94" lengthAdjust="spacingAndGlyphs">H</text>
<text x="266.59" y="45.7" font-size="12" font-weight="normal" fill="#089981" fill-opacity="1" textLength="41.39" lengthAdjust="spacingAndGlyphs">159.858</text>
<text x="315.30" y="45.7" font-size="12" font-weight="normal" fill="#1a1e28" fill-opacity="1" textLength="5.64" lengthAdjust="spacingAndGlyphs">L</text>
<text x="321.50" y="45.7" font-size="12" font-weight="normal" fill="#089981" fill-opacity="1" textLength="42.20" lengthAdjust="spacingAndGlyphs">159.724</text>
<text x="370.70" y="45.7" font-size="12" font-weight="normal" fill="#1a1e28" fill-opacity="1" textLength="7.32" lengthAdjust="spacingAndGlyphs">C</text>
<text x="378.23" y="45.7" font-size="12" font-weight="normal" fill="#089981" fill-opacity="1" textLength="41.48" lengthAdjust="spacingAndGlyphs">159.824</text>
<text x="427.82" y="45.7" font-size="12" font-weight="normal" fill="#089981" fill-opacity="1" textLength="34.92" lengthAdjust="spacingAndGlyphs">+0.066</text>
<text x="467.47" y="45.7" font-size="12" font-weight="normal" fill="#089981" fill-opacity="1" textLength="44.38" lengthAdjust="spacingAndGlyphs">(+0.04%)</text>
<text x="512.63" y="45.7" font-size="12" font-weight="normal" fill="#1a1e28" fill-opacity="1" textLength="12.97" lengthAdjust="spacingAndGlyphs">...</text>
<text x="552.28" y="48.7" font-size="12" font-weight="normal" fill="#1a1e28" fill-opacity="1" textLength="20.34" lengthAdjust="spacingAndGlyphs">JPY</text>
<text x="74.31" y="802.8" font-size="12" font-weight="normal" fill="#1a1e28" fill-opacity="1" textLength="12.19" lengthAdjust="spacingAndGlyphs">27</text>
<text x="146.50" y="802.8" font-size="12" font-weight="normal" fill="#1a1e28" fill-opacity="1" textLength="29.98" lengthAdjust="spacingAndGlyphs">06:00</text>
<text x="303.20" y="802.8" font-size="12" font-weight="normal" fill="#1a1e28" fill-opacity="1" textLength="13.50" lengthAdjust="spacingAndGlyphs">29</text>
<text x="397.86" y="802.8" font-size="12" font-weight="normal" fill="#1a1e28" fill-opacity="1" textLength="13.82" lengthAdjust="spacingAndGlyphs">30</text>
<text x="470.66" y="802.8" font-size="12" font-weight="normal" fill="#1a1e28" fill-opacity="1" textLength="30.23" lengthAdjust="spacingAndGlyphs">06:00</text>
<text x="33.70" y="835.0" font-size="13.5" font-weight="normal" fill="#1a1e28" fill-opacity="1" textLength="69.39" lengthAdjust="spacingAndGlyphs">TradingView</text>
<text x="549.16" y="509.6" font-size="12" font-weight="bold" fill="#fff" fill-opacity="1" textLength="42.34" lengthAdjust="spacingAndGlyphs">159.997</text>
<text x="549.11" y="529.8" font-size="12" font-weight="bold" fill="#fff" fill-opacity="1" textLength="41.73" lengthAdjust="spacingAndGlyphs">159.824</text>
<text x="549.19" y="543.5" font-size="12" font-weight="bold" fill="#fff" fill-opacity="0.7" textLength="29.28" lengthAdjust="spacingAndGlyphs">08:10</text>
<text x="549.12" y="611.6" font-size="12" font-weight="bold" fill="#fff" fill-opacity="1" textLength="42.05" lengthAdjust="spacingAndGlyphs">159.111</text>
<text x="549.16" y="713.7" font-size="12" font-weight="bold" fill="#fff" fill-opacity="1" textLength="42.01" lengthAdjust="spacingAndGlyphs">158.225</text>
<g fill="none" stroke="#9c27b0" stroke-width="1.3"><path d="M519.9 763.2 A9.8 9.8 0 1 0 526.0 769.6"/></g>
<polygon points="518.7,767.2 512.3,772.9 515.9,772.9 513.1,777.8 520.6,772.0 517.0,772.0" fill="#9c27b0"/>
<circle cx="523.5" cy="765.4" r="2.6" fill="#f23645"/>
<g transform="translate(10.2,822.5) scale(0.545)" fill="#131722"><path d="M14 22H7V11H0V4h14v18z"/><circle cx="20" cy="8" r="4"/><path d="M28 22h-8l7.5-18h8L28 22z"/></g>
</svg></body></html>
